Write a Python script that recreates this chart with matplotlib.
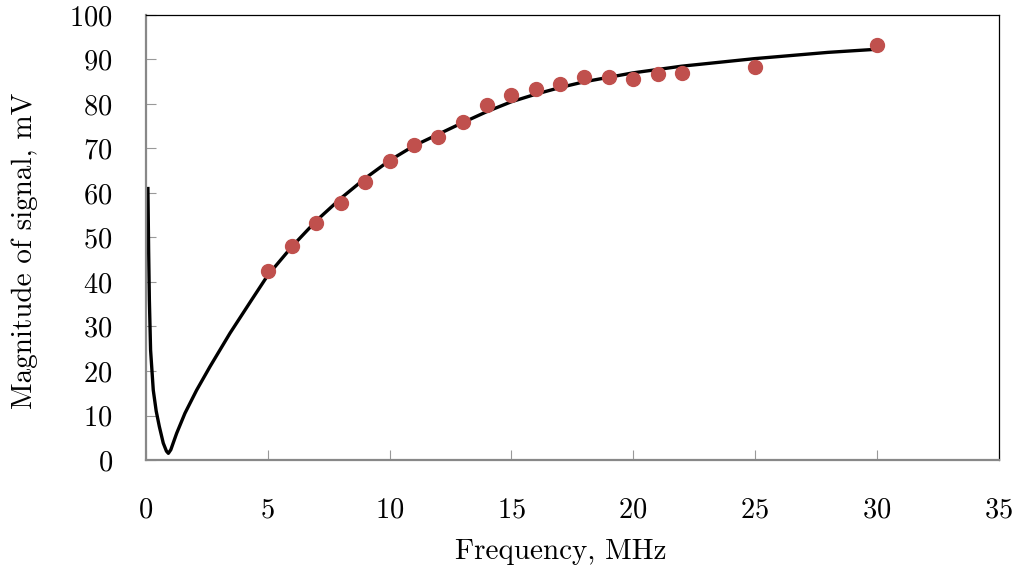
import matplotlib.pyplot as plt

plt.rcParams['font.family'] = ['cmr10', 'DejaVu Serif']
plt.rcParams['axes.formatter.use_mathtext'] = True
plt.rcParams['mathtext.fontset'] = 'cm'

# fitted curve
curve_f = [0.08, 0.11, 0.14, 0.19, 0.3, 0.42, 0.55, 0.71, 0.84, 0.92, 1.02, 1.26, 1.6,
           2.08, 2.63, 3.45, 4.34,
           5, 6, 7, 8, 9, 10, 11, 12, 13, 14, 15, 16, 17, 18, 20, 22, 25, 28, 30]
curve_v = [61, 47, 36, 24.7, 15.7, 11, 7.5, 3.8, 2.0, 1.5, 2.3, 6, 10.5,
           15.7, 21, 28.5, 36,
           41.5, 48, 53.8, 58.8, 63.3, 67.3, 70.6, 73.2, 75.8, 78.3, 80.5, 82.2,
           83.7, 85.0, 87.0, 88.5, 90.2, 91.6, 92.3]

# measured points
meas_f = [5, 6, 7, 8, 9, 10, 11, 12, 13, 14, 15, 16, 17, 18, 19, 20, 21, 22, 25, 30]
meas_v = [42.5, 48, 53.3, 57.7, 62.5, 67.2, 70.8, 72.6, 76, 79.8, 82, 83.3,
          84.6, 86, 86, 85.7, 86.8, 87, 88.4, 93.3]

fig = plt.figure(figsize=(10.15, 5.72), dpi=100)
ax = fig.add_axes([0.1438, 0.1958, 0.84, 0.778])

ax.plot(curve_f, curve_v, color='black', lw=2.4, solid_joinstyle='round', zorder=2)
ax.plot(meas_f, meas_v, 'o', color='#c0504d', ms=10, zorder=3)

ax.set_xlim(0, 35)
ax.set_ylim(0, 100)
ax.set_xticks(range(0, 36, 5))
ax.set_yticks(range(0, 101, 10))

for s in ['left', 'bottom']:
    ax.spines[s].set_color('#888888')
    ax.spines[s].set_linewidth(1.6)
for s in ['top', 'right']:
    ax.spines[s].set_color('black')
    ax.spines[s].set_linewidth(0.9)

ax.tick_params(axis='both', direction='in', length=7.5, width=0.8, color='#999999',
               labelsize=20.5)
ax.tick_params(axis='y', pad=24)
ax.tick_params(axis='x', pad=27)

ax.set_xlabel('Frequency, MHz', fontsize=21, labelpad=11)
ax.set_ylabel('Magnitude of signal, mV', fontsize=21, labelpad=22)
ax.xaxis.label.set_x(0.487)
ax.yaxis.label.set_y(0.47)

fig.savefig('out.png', dpi=100)
